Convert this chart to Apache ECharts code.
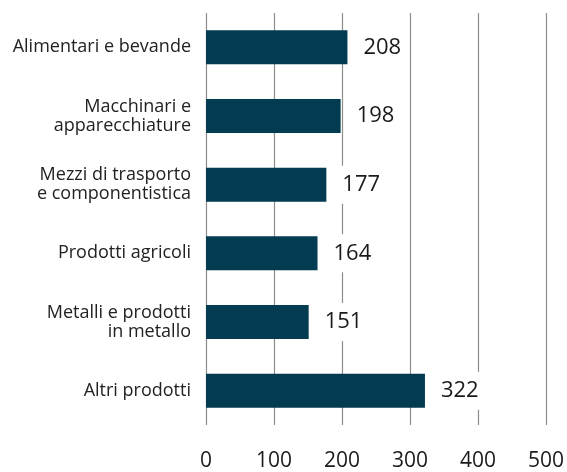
<!DOCTYPE html>
<html>
<head>
<meta charset="utf-8">
<script src="https://cdn.jsdelivr.net/npm/echarts@6/dist/echarts.min.js"></script>
<style>
  html, body { margin: 0; padding: 0; background: #fff; }
  #main { width: 567px; height: 472px; }
</style>
</head>
<body>
<div id="main"></div>
<script>
// categories from top to bottom
var categories = [
  'Alimentari e bevande',
  'Macchinari e\napparecchiature',
  'Mezzi di trasporto\ne componentistica',
  'Prodotti agricoli',
  'Metalli e prodotti\nin metallo',
  'Altri prodotti'
];
var values = [208, 198, 177, 164, 151, 322];
var xTicks = [0, 100, 200, 300, 400, 500];

var chart = echarts.init(document.getElementById('main'));

var option = {
  backgroundColor: '#ffffff',
  animation: false,
  textStyle: { fontFamily: 'Open Sans' },
  grid: { left: 206, right: 21, top: 13, bottom: 42, containLabel: false },
  xAxis: {
    type: 'value',
    min: xTicks[0],
    max: xTicks[xTicks.length - 1],
    interval: 100,
    axisLine: { show: false },
    axisTick: { show: false },
    axisLabel: { fontSize: 21, color: '#1a1a1a', margin: 26, fontFamily: 'Open Sans' },
    splitLine: { show: true, lineStyle: { color: '#8c8c8c', width: 1.2 } }
  },
  yAxis: {
    type: 'category',
    inverse: true,
    data: categories,
    axisLine: { show: false },
    axisTick: { show: false },
    axisLabel: { fontSize: 18, color: '#222', margin: 15, lineHeight: 19, align: 'right', fontFamily: 'Open Sans' }
  },
  series: [{
    type: 'bar',
    data: values,
    barWidth: 34,
    itemStyle: { color: '#033b50' },
    label: {
      show: true,
      position: 'right',
      distance: 8,
      fontSize: 22,
      color: '#1a1a1a',
      backgroundColor: '#ffffff',
      padding: [8, 8, 8, 8],
      fontFamily: 'Open Sans'
    }
  }]
};

chart.setOption(option);
</script>
</body>
</html>
